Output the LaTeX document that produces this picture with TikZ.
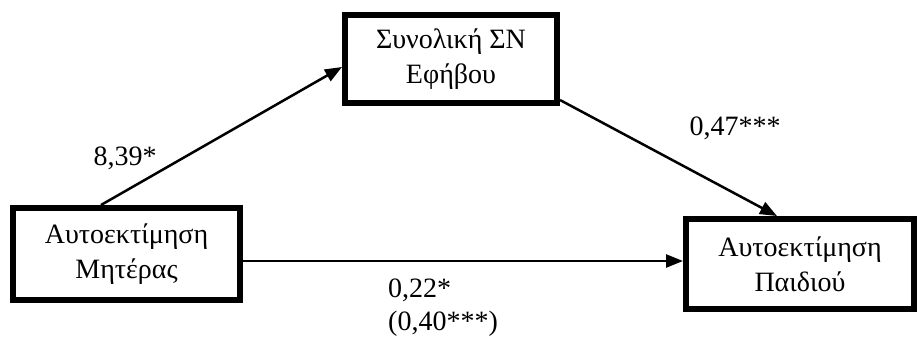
\documentclass[tikz,border=0pt]{standalone}
\usepackage{fontspec}
\setmainfont{Liberation Serif}
\usetikzlibrary{arrows.meta}
\begin{document}
\begin{tikzpicture}[x=1pt,y=-1pt,
  boxnode/.style={draw,line width=6pt,inner sep=0pt,align=center,font=\fontsize{28}{35}\selectfont},
  conn/.style={line width=2.5pt,-{Triangle[length=17pt,width=13pt]}},
  lbl/.style={font=\fontsize{28}{35}\selectfont,inner sep=0pt,align=left}]
\useasboundingbox (0,0) rectangle (920,338);
\node[boxnode,minimum width=227pt,minimum height=92pt] (m) at (126.5,254) {Αυτοεκτίμηση\\Μητέρας};
\node[boxnode,minimum width=212pt,minimum height=88pt] (e) at (451,59) {Συνολική ΣΝ\\Εφήβου};
\node[boxnode,minimum width=228pt,minimum height=90pt] (p) at (800,264) {Αυτοεκτίμηση\\Παιδιού};
\coordinate (s1) at (101,205);
\coordinate (t1) at (342,67);
\coordinate (s2) at (560,100);
\coordinate (t2) at (777,216);
\draw[conn] (s1) -- (t1);
\draw[conn] (s2) -- (t2);
\draw[conn] (m.east |- 0,261) -- (p.west |- 0,261);
\node[lbl] (l1) at (125,158) {8,39*};
\node[lbl] (l2) at (735,128) {0,47***};
\node[lbl,anchor=west] (l3) at (388,290) {0,22*};
\node[lbl,anchor=west] (l4) at (388,324) {(0,40***)};
\end{tikzpicture}
\end{document}
